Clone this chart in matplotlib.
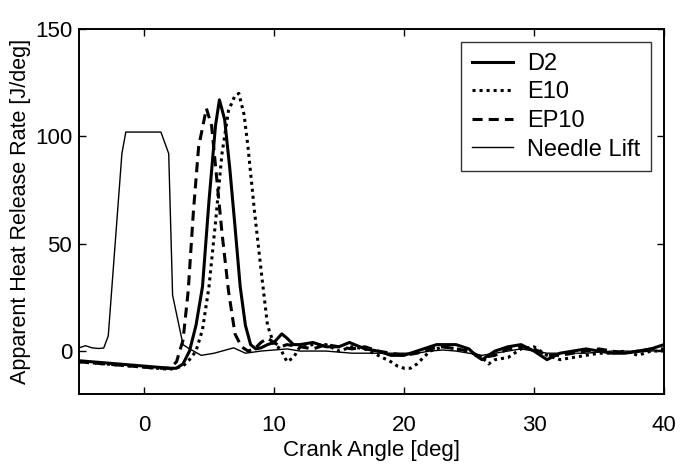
import matplotlib
matplotlib.use("Agg")
import matplotlib.pyplot as plt

plt.rcParams['font.family'] = ['Liberation Sans', 'DejaVu Sans']

# ---- data ----
d2_x = [-5, -4, -3, -2, -1, 0, 1, 2, 2.5, 3, 3.5, 4, 4.5, 5, 5.5, 5.8, 6.2, 6.6, 7, 7.4, 7.8, 8.2, 8.6, 9, 9.5,
        10, 10.6, 11, 11.5, 12, 13, 14, 15, 15.8, 17, 18, 19, 20, 21, 22, 22.5, 23, 24, 25, 25.5, 26, 27, 28, 29,
        30, 31, 32, 33, 34, 35, 36, 37, 38, 39, 40]
d2_y = [-4.5, -5, -5.5, -6, -6.5, -7, -7.5, -8, -8, -6, 0, 12, 30, 70, 105, 117, 108, 85, 58, 30, 12, 3, 1, 1.5, 3,
        4, 8, 6, 3, 3, 4, 2, 2, 4, 1, 0, -2, -2, 0, 2, 3, 3, 3, 1, -2, -4, 0, 2, 3,
        0, -4, -1, 0, 1, 0, -1, -1, 0, 1, 3]

e10_x = [-5, -4, -3, -2, -1, 0, 1, 2, 3, 3.5, 4, 4.5, 5, 5.5, 6, 6.5, 7, 7.3, 7.7, 8, 8.5, 9, 9.5, 10, 10.5, 11,
         11.5, 12, 13, 14, 15, 16, 17, 18, 19, 19.5, 20, 20.5, 21, 22, 23, 24, 25, 26, 26.5, 27, 28, 29, 30, 31,
         32, 33, 34, 35, 36, 37, 38, 39, 40]
e10_y = [-5, -5.5, -6, -6.5, -7, -7.5, -8, -8.5, -7, -4, 0, 10, 30, 60, 92, 112, 119, 120, 110, 95, 65, 38, 12, 3, 1, -5,
         -3, 2, 3, 3, 0, 2, 1, -2, -5, -7, -8, -8, -6, 0, 2, 1, 0, -3, -6, -4, -3, 1, 2, -2,
         -4, -3, -2, -1, -1, 0, -2, 0, 0]

ep10_x = [-5, -4, -3, -2, -1, 0, 1, 2, 2.5, 3, 3.4, 3.8, 4.2, 4.8, 5.2, 5.6, 6, 6.5, 7, 7.5, 8, 8.5, 9, 9.5, 10,
          10.5, 11, 12, 13, 14, 15, 16, 17, 18, 19, 20, 21, 22, 23, 24, 25, 26, 27, 28, 29, 30, 31, 32, 33, 34,
          35, 36, 37, 38, 39, 40]
ep10_y = [-5, -5.5, -6, -6.5, -7, -7.5, -8, -8, -5, 5, 28, 65, 95, 113, 105, 80, 55, 28, 8, 2, 0, 1, 4, 6, 4,
          2, 3, 2, 1, 3, 2, 1, 2, 0, -1, -2, -1, 1, 2, 1, 0, -3, -2, 1, 2, 1, -2, -2, -1, 0,
          1, 0, -1, 0, 1, 1]

needle_x = [-5, -4.5, -4, -3.5, -3.1, -2.75, -1.7, -1.4, 0, 1.3, 1.9, 2.2, 3.0, 3.4, 4.4, 5.4, 6.9, 7.8, 9, 10, 11,
            12, 13, 14, 15, 16, 17, 18, 19, 20, 21, 22, 23, 24, 25, 26, 27, 28, 29, 30, 31, 32, 33, 34, 35, 36,
            37, 38, 39, 40]
needle_y = [1.5, 2.5, 1.5, 1.2, 1.4, 7, 92, 102, 102, 102, 92, 26, 3, 1.4, -2, -1, 1.5, -1, 0, 0.5, 1,
            0, 0, 0, -0.5, -1, -1, -1, -1, -1, -1, 0, 0.5, 0, -1, -2, -1, 0, 1, 0, -1, -1, -1, -1, -0.5, 0,
            0, -0.5, 0, 0.5]

xticks = [0, 10, 20, 30, 40]
yticks = [0, 50, 100, 150]

fig = plt.figure(figsize=(6.8, 4.66), dpi=100)
ax = fig.add_axes([79 / 680, 72 / 466, 585 / 680, 365 / 466])

ax.plot(d2_x, d2_y, color='black', lw=2.2, ls='-', label='D2')
ax.plot(e10_x, e10_y, color='black', lw=2.2, ls=(0, (1, 1.3)), label='E10')
ax.plot(ep10_x, ep10_y, color='black', lw=2.2, ls=(0, (3.3, 2)), label='EP10')
ax.plot(needle_x, needle_y, color='black', lw=1.0, ls='-', label='Needle Lift')

ax.set_xlim(-5, 40)
ax.set_ylim(-20, 150)
ax.set_xticks(xticks)
ax.set_yticks(yticks)
ax.tick_params(direction='in', top=True, right=True, labelsize=16, length=5, width=1)
ax.tick_params(axis='x', pad=15)
ax.tick_params(axis='y', pad=5)
for s in ax.spines.values():
    s.set_linewidth(1.4)

ax.set_xlabel('Crank Angle [deg]', fontsize=16, labelpad=3)
ax.set_ylabel('Apparent Heat Release Rate [J/deg]', fontsize=15.5, labelpad=3)

leg = ax.legend(loc='upper right', bbox_to_anchor=(0.978, 0.964), borderaxespad=0, fontsize=17,
                frameon=True, fancybox=False, edgecolor='black', handlelength=1.75, labelspacing=0.28,
                borderpad=0.45, handletextpad=0.6)
leg.get_frame().set_linewidth(1.0)

fig.savefig('out.png', dpi=100)
